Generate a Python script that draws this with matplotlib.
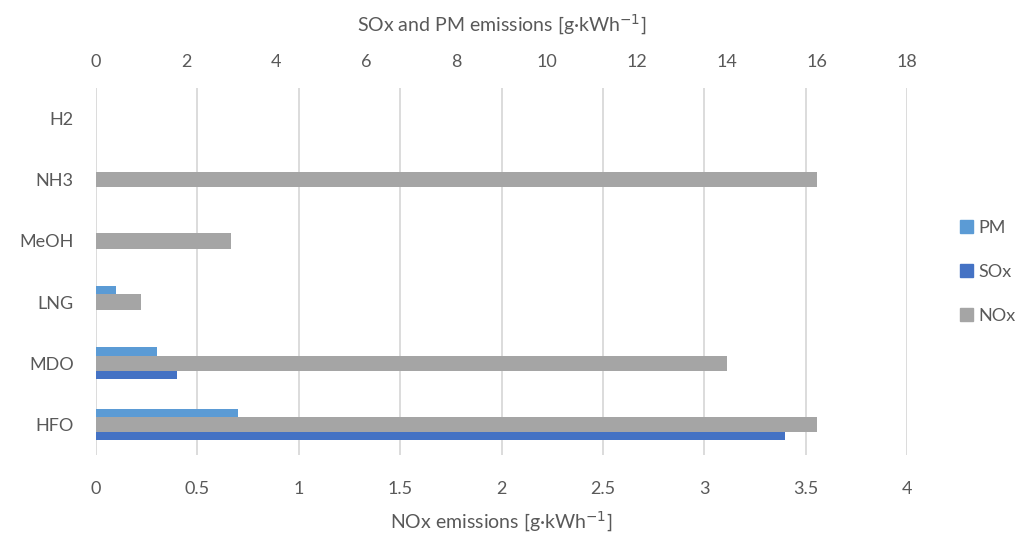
import matplotlib
matplotlib.use("Agg")
import matplotlib.pyplot as plt
import numpy as np
from matplotlib.patches import Patch

plt.rcParams['font.family'] = ['Lato', 'DejaVu Sans']

fuels = ["HFO", "MDO", "LNG", "MeOH", "NH3", "H2"]
pm = [0.7, 0.3, 0.1, 0, 0, 0]
sox = [3.4, 0.4, 0, 0, 0, 0]
nox = [16, 14, 1, 3, 16, 0]

bottom_ticks = [0, 0.5, 1, 1.5, 2, 2.5, 3, 3.5, 4]
bottom_labels = ["0", "0.5", "1", "1.5", "2", "2.5", "3", "3.5", "4"]
top_ticks = [0, 2, 4, 6, 8, 10, 12, 14, 16, 18]

c_pm = "#5B9BD5"
c_sox = "#4472C4"
c_nox = "#A5A5A5"
txt = "#595959"

fig = plt.figure(figsize=(10.24, 5.41), dpi=100)
ax = fig.add_axes([96/1024, 1 - 455/541, 811/1024, 367/541])
y = np.arange(len(fuels))

ax.barh(y + 0.13, pm, height=0.26, color=c_pm, zorder=2)
ax.barh(y - 0.13, sox, height=0.26, color=c_sox, zorder=2)
ax.set_xlim(0, 4)
ax.set_ylim(-0.5, 5.5)
ax.set_xticks(bottom_ticks)
ax.set_xticklabels(bottom_labels)
ax.set_yticks(y)
ax.set_yticklabels(fuels)
ax.grid(axis="x", color="#D9D9D9", linewidth=1.3, zorder=0)
ax.set_axisbelow(True)
ax.tick_params(axis="x", length=0, pad=19, labelsize=13, colors=txt)
ax.tick_params(axis="y", length=0, pad=16, labelsize=13, colors=txt)
ax.set_xlabel("NOx emissions [g·kWh$^{-1}$]", fontsize=14, color=txt, labelpad=9)
for s in ax.spines.values():
    s.set_visible(False)

ax2 = ax.twiny()
ax2.barh(y, nox, height=0.25, color=c_nox, zorder=3)
ax2.set_xlim(0, 18)
ax2.set_xticks(top_ticks)
ax2.tick_params(axis="x", length=0, pad=13, labelsize=13, colors=txt)
ax2.set_xlabel("SOx and PM emissions [g·kWh$^{-1}$]", fontsize=14, color=txt, labelpad=16)
for s in ax2.spines.values():
    s.set_visible(False)

handles = [Patch(color=c_pm), Patch(color=c_sox), Patch(color=c_nox)]
fig.legend(handles, ["PM", "SOx", "NOx"], loc="center left", bbox_to_anchor=(0.922, 0.497),
           frameon=False, fontsize=13, labelcolor=txt, handlelength=0.7, handleheight=0.7,
           handletextpad=0.3, labelspacing=1.55)

fig.savefig("out.png", dpi=100)
